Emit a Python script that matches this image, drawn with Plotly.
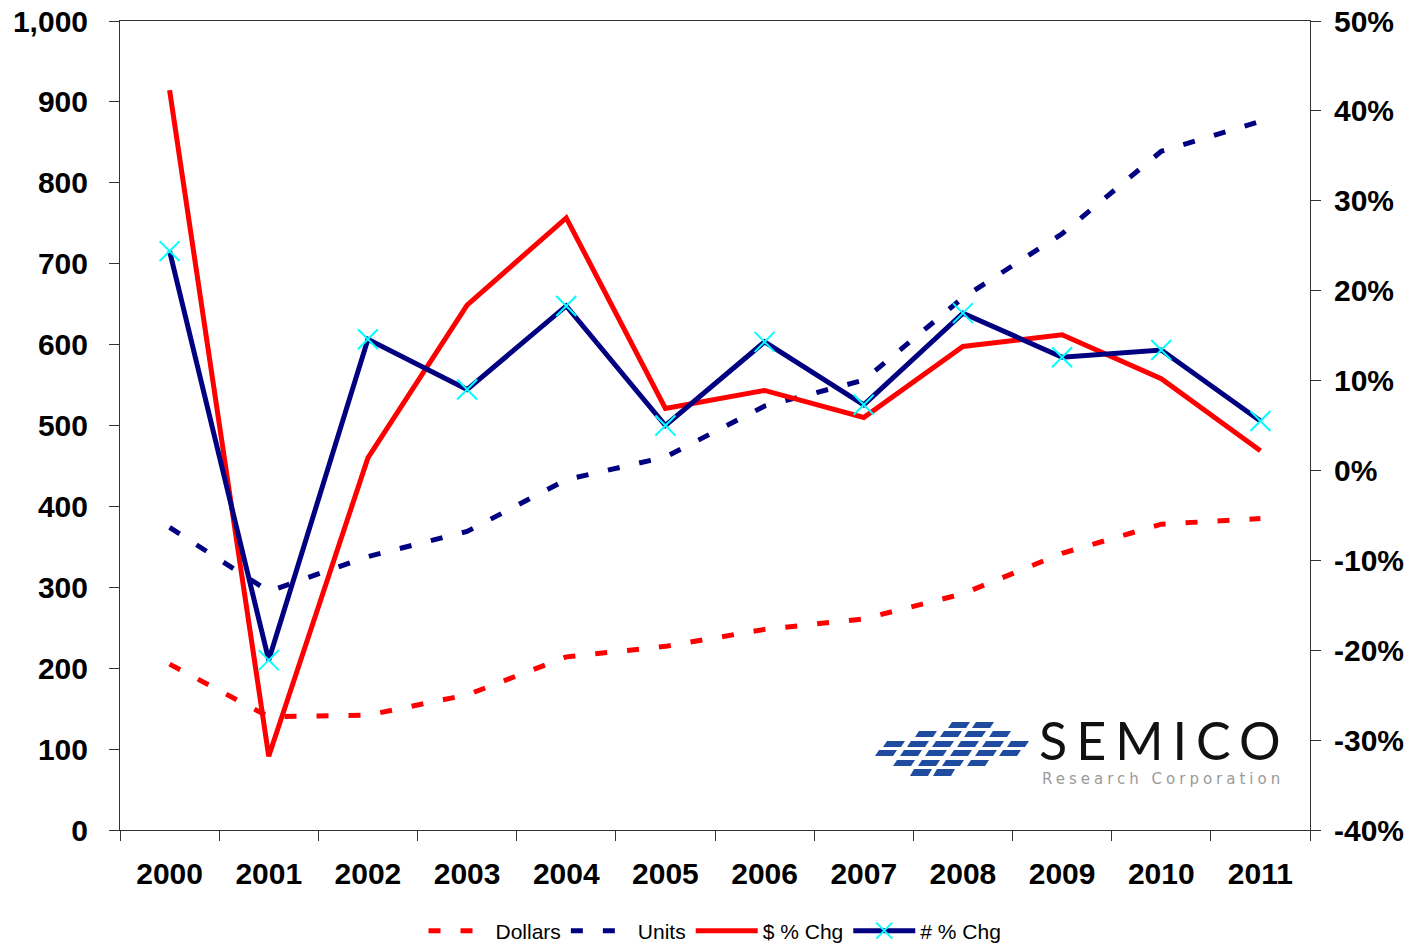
import plotly.graph_objects as go

years = ["2000", "2001", "2002", "2003", "2004", "2005", "2006", "2007", "2008", "2009", "2010", "2011"]
dollars = [205, 140, 142, 167, 214, 227, 248, 261, 292, 342, 378, 385]
units = [374, 295, 338, 369, 433, 461, 524, 556, 658, 737, 839, 876]
dollars_pct = [42.3, -31.8, 1.4, 18.4, 28.1, 6.9, 8.9, 5.9, 13.8, 15.1, 10.2, 2.2]
units_pct = [24.4, -21.1, 14.6, 9.0, 18.3, 5.0, 14.3, 7.3, 17.5, 12.6, 13.4, 5.5]

left_ticks = list(range(0, 1001, 100))
right_ticks = list(range(-40, 51, 10))
right_text = [f"{v}%" for v in right_ticks]
boundaries = [i - 0.5 for i in range(len(years) + 1)]

W, H = 1410, 945
PL, PR, PT, PB = 120, 1310, 21, 830          # plot area in page pixels
ML, MT = PL, PT
MR, MB = W - PR, H - PB
PW, PH = PR - PL, PB - PT

def px(x):
    return (x - PL) / PW

def py(y):
    return (PB - y) / PH

FONT = "Liberation Sans, Arial, sans-serif"
RED = "#FF0000"
NAVY = "#000080"
TICKFONT = dict(family=FONT, size=30, weight="bold", color="black")

fig = go.Figure()
fig.add_trace(go.Scatter(x=years, y=dollars, name="Dollars", mode="lines",
                         line=dict(color=RED, width=5, dash="12px,20px"), yaxis="y"))
fig.add_trace(go.Scatter(x=years, y=units, name="Units", mode="lines",
                         line=dict(color=NAVY, width=5, dash="12px,20px"), yaxis="y"))
fig.add_trace(go.Scatter(x=years, y=dollars_pct, name="$ % Chg", mode="lines",
                         line=dict(color=RED, width=5), yaxis="y2"))
fig.add_trace(go.Scatter(x=years, y=units_pct, name="# % Chg", mode="lines+markers",
                         line=dict(color=NAVY, width=5),
                         marker=dict(symbol="x-thin", size=20, color="#00FFFF",
                                     line=dict(color="#00FFFF", width=2)),
                         yaxis="y2"))

# SEMICO logo tiles (decoration)
rows = [
    (722, 728, [948, 972]),
    (731, 737, [915, 940, 964, 989]),
    (741, 747, [883, 907, 932, 957, 982, 1007]),
    (750, 756, [875, 900, 925, 950, 975, 999]),
    (760, 766, [893, 918, 942, 967]),
    (769, 776, [910, 933]),
]
shapes = []
for y0, y1, xs in rows:
    for x0 in xs:
        w, s = 18, 4
        path = "M {} {} L {} {} L {} {} L {} {} Z".format(
            px(x0), py(y1), px(x0 + w), py(y1), px(x0 + w + s), py(y0), px(x0 + s), py(y0))
        shapes.append(dict(type="path", path=path, xref="paper", yref="paper",
                           fillcolor="#1F4C9E", line=dict(width=0), layer="above"))

annotations = [
    dict(text='<span style="letter-spacing:9px">SEMICO</span>', x=px(1037), y=py(740),
         xref="paper", yref="paper", xanchor="left", yanchor="middle", showarrow=False,
         height=44, valign="middle",
         font=dict(family="Lato, DejaVu Sans, sans-serif", size=52, color="#111111")),
    dict(text='<span style="letter-spacing:4px">Research Corporation</span>', x=px(1040), y=py(779),
         xref="paper", yref="paper", xanchor="left", yanchor="middle", showarrow=False,
         height=18, valign="middle",
         font=dict(family="DejaVu Sans, sans-serif", size=15, color="#9A9A9A")),
]

LINE = dict(showline=True, linecolor="#333333", linewidth=1)
fig.update_layout(
    width=W, height=H,
    margin=dict(l=ML, r=MR, t=MT, b=MB, autoexpand=False),
    paper_bgcolor="white", plot_bgcolor="white",
    font=dict(family=FONT, color="black"),
    showlegend=True,
    legend=dict(orientation="h", x=0.5, xanchor="center", y=py(931), yanchor="middle",
                font=dict(family=FONT, size=21, color="black"), itemwidth=62,
                bgcolor="rgba(0,0,0,0)"),
    xaxis=dict(type="category", range=[-0.5, 11.5], tickson="boundaries",
               ticks="outside", ticklen=10, tickcolor="#333333", showgrid=False,
               mirror=True, zeroline=False, automargin=False,
               tickfont=TICKFONT, ticklabelstandoff=17, ticklabeloverflow="allow", **LINE),
    xaxis2=dict(overlaying="x", anchor="y", side="bottom", range=[-0.5, 11.5],
                tickvals=boundaries, ticks="inside", ticklen=10, tickcolor="#333333",
                showticklabels=False, showgrid=False, zeroline=False, showline=False,
                automargin=False),
    yaxis=dict(range=[0, 1000], tickvals=left_ticks, tickformat=",d",
               ticks="outside", ticklen=10, tickcolor="#333333", showgrid=False, zeroline=False,
               automargin=False, tickfont=TICKFONT, ticklabelstandoff=15,
               ticklabeloverflow="allow", **LINE),
    yaxis3=dict(overlaying="y", anchor="x", side="left", range=[0, 1000], tickvals=left_ticks,
                ticks="inside", ticklen=10, tickcolor="#333333", showticklabels=False,
                showgrid=False, zeroline=False, showline=False, automargin=False),
    yaxis2=dict(range=[-40, 50], tickvals=right_ticks, ticktext=right_text,
                overlaying="y", side="right", anchor="x",
                ticks="outside", ticklen=10, tickcolor="#333333", showgrid=False, zeroline=False,
                automargin=False, tickfont=TICKFONT, ticklabelstandoff=7,
                ticklabeloverflow="allow", **LINE),
    shapes=shapes,
    annotations=annotations,
)

fig.write_html("out.html", config={"displayModeBar": False},
               post_script="document.body.style.margin='0';")
